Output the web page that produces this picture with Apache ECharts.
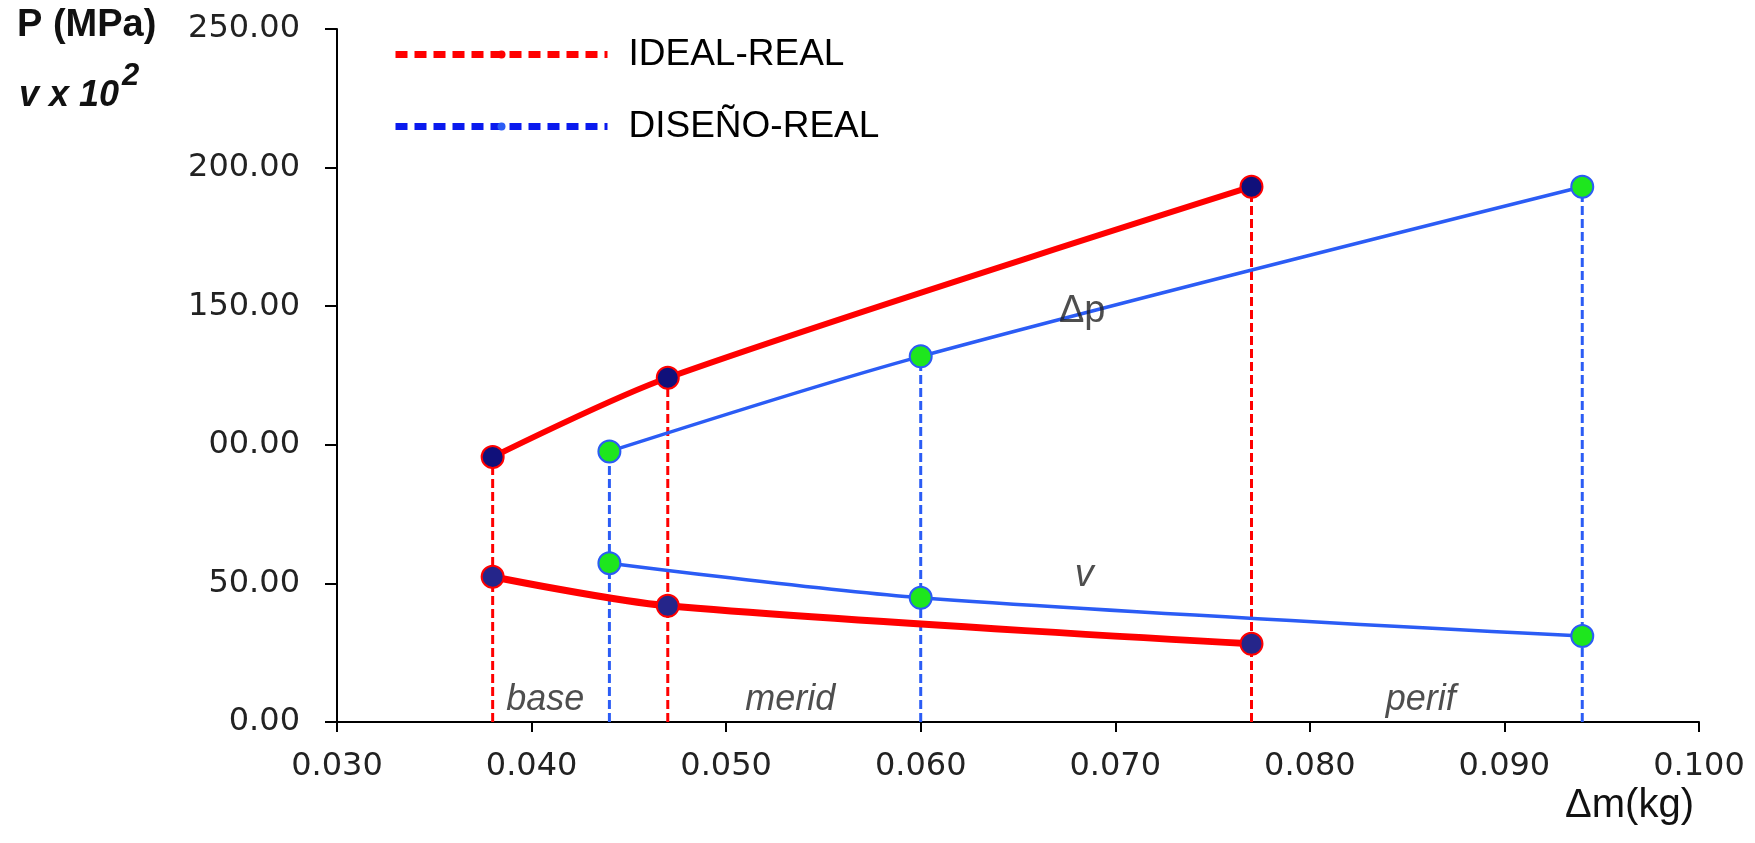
<!DOCTYPE html>
<html>
<head>
<meta charset="utf-8">
<script src="https://cdn.jsdelivr.net/npm/echarts@6/dist/echarts.min.js"></script>
<style>
  html, body { margin: 0; padding: 0; background: #fff; }
  #chart { width: 1755px; height: 843px; }
</style>
</head>
<body>
<div id="chart"></div>
<script>
// masa (kg) de cada punto
var idealMass = [0.038, 0.047, 0.077];
var disenoMass = [0.044, 0.060, 0.094];
// presion (MPa)
var idealP = [95.6, 124.2, 193.1];
var disenoP = [97.6, 131.9, 193.1];
// velocidad x 10^2
var idealV = [52.4, 41.9, 28.2];
var disenoV = [57.3, 44.8, 31.0];
// etiquetas dentro del grafico [x, y, texto, cursiva, tamano]
var notes = [
    [0.0683, 148, 'Δp', false, 38],
    [0.0684, 53, 'v', true, 38],
    [0.0407, 8, 'base', true, 36],
    [0.0533, 8, 'merid', true, 36],
    [0.0857, 8, 'perif', true, 36]
];

var RED = '#ff0000';
var BLUE = '#2b5cf5';

function pairs(xs, ys) {
    return xs.map(function (x, i) { return [x, ys[i]]; });
}

function curve(name, xs, ys, color, width, fill, border) {
    return {
        type: 'line',
        name: name + '-c',
        data: pairs(xs, ys),
        smooth: 0.3,
        symbol: 'circle',
        symbolSize: 22,
        lineStyle: { color: color, width: width },
        itemStyle: { color: fill, borderColor: border, borderWidth: 2 },
        z: 5
    };
}

function drops(name, xs, ys, color) {
    return xs.map(function (x, i) {
        return {
            type: 'line',
            name: name,
            data: [[x, 0], [x, ys[i]]],
            symbol: 'none',
            color: color,
            lineStyle: { color: color, width: 3, type: [9, 4] },
            z: 3
        };
    });
}

var series = []
    .concat(drops('IDEAL-REAL', idealMass, idealP, RED))
    .concat(drops('DISEÑO-REAL', disenoMass, disenoP, BLUE))
    .concat([
        curve('ideal-p', idealMass, idealP, RED, 6, '#10107a', RED),
        curve('ideal-v', idealMass, idealV, RED, 7, '#25258a', RED),
        curve('diseno-p', disenoMass, disenoP, BLUE, 3.5, '#1ee61e', BLUE),
        curve('diseno-v', disenoMass, disenoV, BLUE, 3.5, '#1ee61e', BLUE),
        {
            type: 'scatter',
            name: 'notas',
            data: notes.map(function (n) {
                return {
                    value: [n[0], n[1]],
                    label: {
                        formatter: n[2],
                        fontStyle: n[3] ? 'italic' : 'normal',
                        fontSize: n[4]
                    }
                };
            }),
            symbolSize: 0,
            label: {
                show: true,
                position: 'inside',
                color: '#222',
                fontFamily: 'Liberation Sans'
            },
            silent: true,
            z: 6
        }
    ]);

var myChart = echarts.init(document.getElementById('chart'));
myChart.setOption({
    backgroundColor: '#fff',
    animation: false,
    grid: { left: 337, right: 56, top: 29, bottom: 121 },
    legend: {
        data: [
            { name: 'IDEAL-REAL', lineStyle: { color: '#ff0000' } },
            { name: 'DISEÑO-REAL', lineStyle: { color: '#0a1aee' } }
        ],
        orient: 'vertical',
        left: 392,
        top: 36,
        padding: 0,
        itemWidth: 212,
        itemHeight: 10,
        itemGap: 35,
        lineStyle: { width: 7, type: [12, 7] },
        textStyle: {
            fontSize: 37,
            color: '#000',
            fontFamily: 'Liberation Sans',
            padding: [0, 0, 0, 16]
        },
        selectedMode: false
    },
    xAxis: {
        type: 'value',
        min: 0.03,
        max: 0.1,
        interval: 0.01,
        splitLine: { show: false },
        axisLine: { lineStyle: { color: '#000', width: 2 } },
        axisTick: { length: 10, lineStyle: { color: '#000', width: 2 } },
        axisLabel: {
            margin: 29,
            fontSize: 32,
            color: '#222',
            fontFamily: 'DejaVu Sans',
            formatter: function (v) { return v.toFixed(3); }
        }
    },
    yAxis: {
        type: 'value',
        min: 0,
        max: 250,
        interval: 50,
        splitLine: { show: false },
        axisLine: { show: true, lineStyle: { color: '#000', width: 2 } },
        axisTick: { show: true, length: 12, lineStyle: { color: '#000', width: 2 } },
        axisLabel: {
            margin: 37,
            fontSize: 32,
            color: '#222',
            fontFamily: 'DejaVu Sans',
            formatter: function (v) {
                // la etiqueta 100 sale recortada en el original
                return v === 100 ? '00.00' : v.toFixed(2);
            }
        }
    },
    graphic: [
        {
            type: 'text', x: 17, y: 26,
            style: {
                text: 'P (MPa)', fill: '#111', verticalAlign: 'middle',
                font: 'bold 38px "Liberation Sans"'
            }
        },
        {
            type: 'text', x: 19, y: 96,
            style: {
                text: 'v x 10', fill: '#111', verticalAlign: 'middle',
                font: 'italic bold 36px "Liberation Sans"'
            }
        },
        {
            type: 'text', x: 122, y: 76,
            style: {
                text: '2', fill: '#111', verticalAlign: 'middle',
                font: 'italic bold 31px "Liberation Sans"'
            }
        },
        {
            type: 'text', x: 1694, y: 806,
            style: {
                text: 'Δm(kg)', fill: '#111', align: 'right', verticalAlign: 'middle',
                font: '40px "Liberation Sans"'
            }
        }
    ],
    series: series
});
</script>
</body>
</html>
